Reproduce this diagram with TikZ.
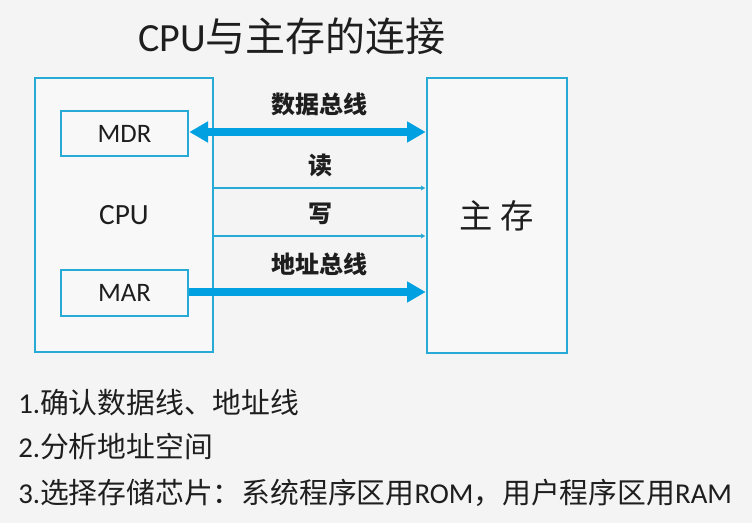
\documentclass[tikz,border=0pt]{standalone}
\usepackage{fontspec}
\setmainfont{Carlito}
\newfontfamily\cjk{Noto Sans CJK SC}
\usetikzlibrary{arrows.meta,calc}
\definecolor{boxblue}{RGB}{40,170,215}
\definecolor{busblue}{RGB}{0,160,225}
\definecolor{bgc}{RGB}{244,244,244}
\definecolor{txt}{RGB}{30,30,30}
\newcommand{\zh}[1]{{\cjk #1}}
\begin{document}
\begin{tikzpicture}[x=0.75pt,y=-0.75pt,
    blk/.style={draw=boxblue,line width=2pt,fill=bgc!60!white,inner sep=0pt,text=txt,
      font=\fontsize{20}{20}\selectfont},
    bus/.style={busblue,line width=5.5pt,-{Triangle[length=14pt,width=15pt]}},
    ctl/.style={boxblue,line width=1.8pt,-{Latex[length=3.5pt,width=4pt]}},
    lbl/.style={text=txt,font=\cjk\bfseries\fontsize{18}{18}\selectfont},
    note/.style={anchor=west,text=txt,inner sep=0pt,font=\fontsize{21.6}{22}\selectfont}]
      \fill[bgc] (0,0) rectangle (752,523);
      \useasboundingbox (0,0) rectangle (752,523);
      % title
      \node[text=txt,font=\fontsize{30}{30}\selectfont] (title) at (292,36) {CPU\zh{与主存的连接}};
      % boxes
      \node[blk,minimum width=178*0.75pt,minimum height=274*0.75pt,
        font=\fontsize{22}{22}\selectfont] (cpu) at (124,215) {CPU};
      \node[blk,minimum width=127*0.75pt,minimum height=45*0.75pt] (mdr) at (124.5,133.5) {MDR};
      \node[blk,minimum width=127*0.75pt,minimum height=46*0.75pt] (mar) at (124.5,293) {MAR};
      \node[blk,minimum width=140*0.75pt,minimum height=275*0.75pt,
        font=\cjk\fontsize{25}{25}\selectfont] (mem) at (497,215.5) {主\ 存};
      % buses
      \draw[bus,{Triangle[length=14pt,width=15pt]}-{Triangle[length=14pt,width=15pt]}]
        ($(mdr.east)+(0,-1.5)$) -- ($(mem.west |- mdr.east)+(0,-1.5)$)
        node[lbl,pos=.55,above=6pt] {数据总线};
      \draw[ctl] ($(cpu.east)+(0,-27)$) -- ($(mem.west)+(0,-27.5)$)
        node[lbl,midway,above=4pt] {读};
      \draw[ctl] ($(cpu.east)+(0,21)$) -- ($(mem.west)+(0,20.5)$)
        node[lbl,midway,above=4pt] {写};
      \draw[bus] ($(mar.east)+(0,-1)$) -- ($(mem.west |- mar.east)+(0,-1)$)
        node[lbl,pos=.55,above=6pt] {地址总线};
      % notes
      \node[note] (note1) at (18,403) {1.\zh{确认数据线、地址线}};
      \node[note] (note2) at (18,447) {2.\zh{分析地址空间}};
      \node[note] (note3) at (18,493) {3.\zh{选择存储芯片：系统程序区用}ROM\zh{，用户程序区用}RAM};
\end{tikzpicture}
\end{document}
